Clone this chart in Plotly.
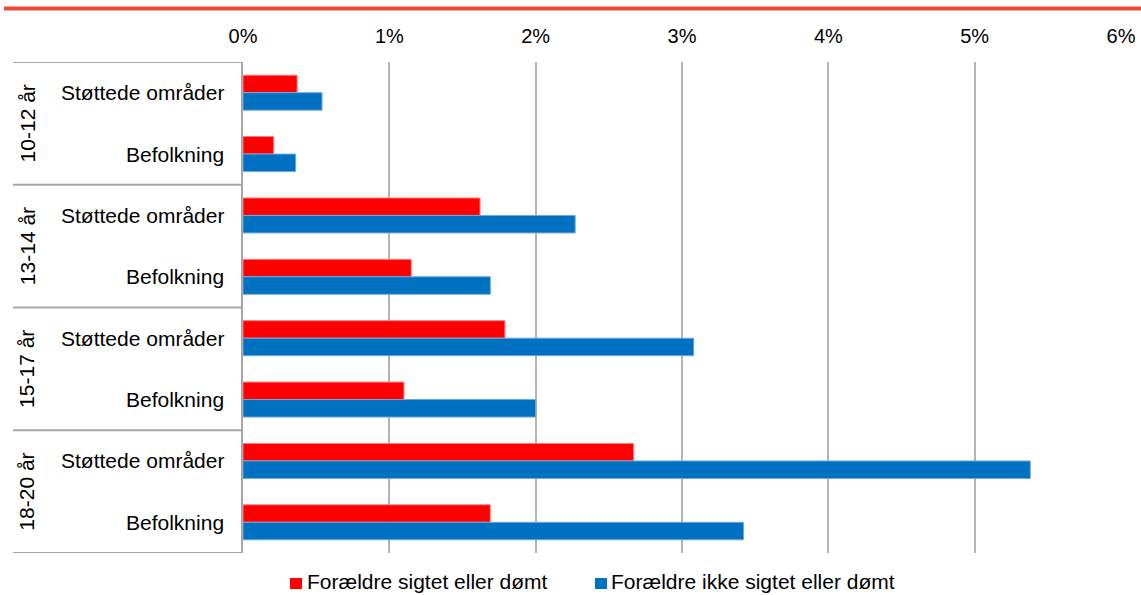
import plotly.graph_objects as go

groups = ["10-12 år", "13-14 år", "15-17 år", "18-20 år"]
subcats = ["Støttede områder", "Befolkning"]
series_names = ["Forældre sigtet eller dømt", "Forældre ikke sigtet eller dømt"]
series_colors = ["#ff0000", "#0070c0"]

# values in percent, order: group x (Støttede, Befolkning)
sigtet = [0.37, 0.21, 1.62, 1.15, 1.79, 1.10, 2.67, 1.69]
ikke_sigtet = [0.54, 0.36, 2.27, 1.69, 3.08, 2.00, 5.38, 3.42]
x_ticks = [0, 1, 2, 3, 4, 5, 6]
x_ticklabels = [f"{v}%" for v in x_ticks]

W, H = 1141, 595
L, R, T, B = 243, 20, 62, 42
PW = W - L - R
PH = H - T - B

def px_x(p):
    return (p - L) / PW

def px_y(p):
    return (H - B - p) / PH

n = len(sigtet)
ypos = list(range(n))
labels = [subcats[i % 2] for i in range(n)]

FONT = "Arial, Liberation Sans, sans-serif"
FS = 21

fig = go.Figure()
fig.add_trace(go.Bar(
    y=ypos, x=sigtet, orientation="h", name=series_names[0], showlegend=False,
    marker=dict(color=series_colors[0], line=dict(color="#ff8080", width=1)),
))
fig.add_trace(go.Bar(
    y=ypos, x=ikke_sigtet, orientation="h", name=series_names[1], showlegend=False,
    marker=dict(color=series_colors[1], line=dict(color="#6fa8dc", width=1)),
))

annotations = []
for i, lab in enumerate(labels):
    annotations.append(dict(
        x=px_x(226), xref="paper", y=i, yref="y", text=lab, showarrow=False,
        xanchor="right", yanchor="middle", font=dict(size=FS, color="#000000", family=FONT),
    ))
for g, name in enumerate(groups):
    annotations.append(dict(
        x=px_x(27), xref="paper", y=2 * g + 0.5, yref="y", text=name, showarrow=False,
        textangle=-90, xanchor="center", yanchor="middle",
        font=dict(size=FS, color="#000000", family=FONT),
    ))

shapes = []
for k in range(len(groups) + 1):
    yv = -0.5 + 2 * k
    shapes.append(dict(type="line", xref="paper", yref="y", x0=px_x(13), x1=0,
                       y0=yv, y1=yv, line=dict(color="#a6a6a6", width=2)))
# top red line
shapes.append(dict(type="line", xref="paper", yref="paper", x0=px_x(4), x1=px_x(1141),
                   y0=px_y(8.5), y1=px_y(8.5), line=dict(color="#f0483a", width=4)))

# custom legend (squares + text)
legend_sq_x = [290, 595]
legend_tx_x = [305, 609]
for sx, tx, name, col in zip(legend_sq_x, legend_tx_x, series_names, series_colors):
    shapes.append(dict(type="rect", xref="paper", yref="paper",
                       x0=px_x(sx), x1=px_x(sx + 12), y0=px_y(578), y1=px_y(589),
                       fillcolor=col, line=dict(width=0)))
    annotations.append(dict(
        x=px_x(tx), xref="paper", y=px_y(581.5), yref="paper", text=name, showarrow=False,
        xanchor="left", yanchor="middle", font=dict(size=FS, color="#000000", family=FONT),
    ))

fig.update_layout(
    width=W, height=H,
    margin=dict(l=L, r=R, t=T, b=B, pad=0, autoexpand=False),
    paper_bgcolor="white", plot_bgcolor="white",
    barmode="group", bargap=0.43, bargroupgap=0,
    font=dict(family=FONT, size=FS, color="#000000"),
    showlegend=False,
    xaxis=dict(
        side="top", range=[0, 6], tickmode="array", tickvals=x_ticks, ticktext=x_ticklabels,
        showgrid=True, gridcolor="#b4b4b4", gridwidth=1.5, zeroline=False,
        showline=False, ticks="", ticklabelstandoff=14,
        tickfont=dict(size=20, family=FONT, color="#000000"),
    ),
    yaxis=dict(
        range=[n - 0.5, -0.5], showticklabels=False, showgrid=False, zeroline=False,
        showline=True, linecolor="#a6a6a6", linewidth=2, ticks="",
    ),
    annotations=annotations, shapes=shapes,
)

fig.write_html(
    "out.html",
    config={"displayModeBar": False},
    post_script="document.body.style.margin='0px';document.body.style.overflow='hidden';",
)
